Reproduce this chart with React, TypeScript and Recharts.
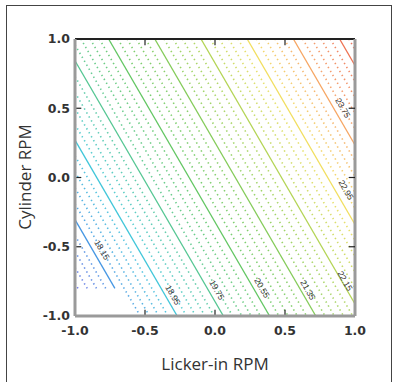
import React from 'react';
import { ComposedChart, Line, XAxis, YAxis, ReferenceLine, Scatter } from 'recharts';

const xTicks = [-1, -0.5, 0, 0.5, 1];
const yTicks = [-1, -0.5, 0, 0.5, 1];

const majorLevels = [18.15, 18.95, 19.75, 20.55, 21.35, 22.15, 22.95, 23.75, 24.55];

const contourLevels = [
  17.51, 17.67, 17.83, 17.99, 18.15, 18.31, 18.47, 18.63, 18.79, 18.95,
  19.11, 19.27, 19.43, 19.59, 19.75, 19.91, 20.07, 20.23, 20.39, 20.55,
  20.71, 20.87, 21.03, 21.19, 21.35, 21.51, 21.67, 21.83, 21.99, 22.15,
  22.31, 22.47, 22.63, 22.79, 22.95, 23.11, 23.27, 23.43, 23.59, 23.75,
  23.91, 24.07, 24.23, 24.39, 24.55, 24.71,
];

// upper-left end of each contour line
const contourStart: [number, number][] = [
  [-1, -0.763], [-1, -0.649], [-1, -0.534], [-1, -0.419], [-1, -0.304],
  [-1, -0.19], [-1, -0.075], [-1, 0.04], [-1, 0.155], [-1, 0.27],
  [-1, 0.384], [-1, 0.499], [-1, 0.614], [-1, 0.729], [-1, 0.843],
  [-1, 0.958], [-0.958, 1], [-0.892, 1], [-0.826, 1], [-0.76, 1],
  [-0.694, 1], [-0.628, 1], [-0.562, 1], [-0.496, 1], [-0.43, 1],
  [-0.364, 1], [-0.298, 1], [-0.232, 1], [-0.166, 1], [-0.1, 1],
  [-0.034, 1], [0.032, 1], [0.098, 1], [0.164, 1], [0.23, 1],
  [0.296, 1], [0.362, 1], [0.428, 1], [0.494, 1], [0.56, 1],
  [0.626, 1], [0.692, 1], [0.758, 1], [0.824, 1], [0.89, 1],
  [0.956, 1],
];

// lower-right end of each contour line
const contourEnd: [number, number][] = [
  [-0.979, -0.8], [-0.913, -0.8], [-0.847, -0.8], [-0.781, -0.8], [-0.715, -0.8],
  [-0.534, -1], [-0.468, -1], [-0.402, -1], [-0.336, -1], [-0.27, -1],
  [-0.204, -1], [-0.138, -1], [-0.072, -1], [-0.006, -1], [0.06, -1],
  [0.126, -1], [0.192, -1], [0.258, -1], [0.324, -1], [0.39, -1],
  [0.456, -1], [0.522, -1], [0.588, -1], [0.654, -1], [0.72, -1],
  [0.786, -1], [0.852, -1], [0.918, -1], [0.984, -1], [1, -0.913],
  [1, -0.798], [1, -0.683], [1, -0.569], [1, -0.454], [1, -0.339],
  [1, -0.224], [1, -0.11], [1, 0.005], [1, 0.12], [1, 0.235],
  [1, 0.35], [1, 0.464], [1, 0.579], [1, 0.694], [1, 0.809],
  [1, 0.923],
];

const labelText = ['18.15', '18.95', '19.75', '20.55', '21.35', '22.15', '22.95', '23.75'];
const labelX = [-0.807, -0.3, 0.014, 0.336, 0.664, 0.929, 0.936, 0.914];
const labelY = [-0.523, -0.848, -0.812, -0.798, -0.812, -0.747, -0.09, 0.502];

const colorStops: [number, number[]][] = [
  [17.5, [90, 100, 225]],
  [18.15, [60, 145, 225]],
  [18.95, [55, 195, 215]],
  [19.75, [75, 195, 140]],
  [20.55, [90, 195, 90]],
  [21.35, [125, 200, 80]],
  [22.15, [175, 210, 75]],
  [22.95, [240, 220, 85]],
  [23.75, [245, 160, 90]],
  [24.71, [235, 95, 70]],
];

function colorFor(level: number): string {
  for (let i = 0; i < colorStops.length - 1; i++) {
    const [a, ca] = colorStops[i];
    const [b, cb] = colorStops[i + 1];
    if (level <= b || i === colorStops.length - 2) {
      const t = Math.max(0, Math.min(1, (level - a) / (b - a)));
      const c = ca.map((v, k) => Math.round(v + (cb[k] - v) * t));
      return `rgb(${c[0]},${c[1]},${c[2]})`;
    }
  }
  return '#888';
}

const isMajor = (l: number) => majorLevels.some((m) => Math.abs(m - l) < 0.001);

const labelData = labelText.map((t, i) => ({ x: labelX[i], y: labelY[i], text: t }));

const LabelShape = (props: any) => {
  const { cx, cy, payload } = props;
  return (
    <text
      x={cx}
      y={cy}
      transform={`rotate(60 ${cx} ${cy})`}
      textAnchor="middle"
      dominantBaseline="central"
      fontSize={8.5}
      fontFamily="'Liberation Sans', Arial, sans-serif"
      fill="#333"
    >
      {payload.text}
    </text>
  );
};

const tickSegs = [-0.5, 0, 0.5];
const tickFont = { fill: '#333', fontSize: 12.5, fontWeight: 700, fontFamily: "'DejaVu Sans', sans-serif" };

export default function App() {
  return (
    <div style={{ position: 'relative', width: 397, height: 382, background: '#fff', overflow: 'hidden' }}>
      <style>{`body{margin:0;}`}</style>
      <div
        style={{
          position: 'absolute',
          left: 6,
          top: 5,
          width: 386,
          height: 390,
          border: '1px solid #444',
          boxSizing: 'border-box',
        }}
      />
      <div style={{ position: 'absolute', left: 0, top: 0 }}>
        <ComposedChart
          width={397}
          height={382}
          margin={{ top: 39, right: 42, bottom: 46, left: 35 }}
        >
          <XAxis
            type="number"
            dataKey="x"
            domain={[-1, 1]}
            ticks={xTicks}
            allowDataOverflow
            tickFormatter={(v: number) => v.toFixed(1)}
            tickLine={false}
            axisLine={{ stroke: '#9a9a9a', strokeWidth: 3 }}
            tick={tickFont}
            tickSize={4}
            tickMargin={6}
            height={20}
          />
          <YAxis
            type="number"
            dataKey="y"
            domain={[-1, 1]}
            ticks={yTicks}
            allowDataOverflow
            tickFormatter={(v: number) => v.toFixed(1)}
            tickLine={false}
            axisLine={{ stroke: '#9a9a9a', strokeWidth: 3 }}
            tick={tickFont}
            tickSize={3}
            tickMargin={2}
            width={40}
          />
          {contourLevels.map((lvl, i) => {
            const major = isMajor(lvl);
            const data = [
              { x: contourStart[i][0], y: contourStart[i][1] },
              { x: contourEnd[i][0], y: contourEnd[i][1] },
            ];
            return (
              <Line
                key={`c${i}`}
                data={data}
                dataKey="y"
                type="linear"
                stroke={colorFor(lvl)}
                strokeWidth={major ? 1.3 : 1.6}
                strokeDasharray={major ? undefined : '1.4 3.2'}
                strokeOpacity={major ? 0.95 : 0.85}
                dot={false}
                activeDot={false}
                isAnimationActive={false}
              />
            );
          })}
          <ReferenceLine y={1} stroke="#222" strokeWidth={2} />
          <ReferenceLine x={1} stroke="#9a9a9a" strokeWidth={3} />
          {tickSegs.map((v) => (
            <ReferenceLine
              key={`bt${v}`}
              segment={[{ x: v, y: -1 }, { x: v, y: -0.955 }]}
              stroke="#222"
              strokeWidth={1.2}
            />
          ))}
          {tickSegs.map((v) => (
            <ReferenceLine
              key={`tt${v}`}
              segment={[{ x: v, y: 1 }, { x: v, y: 0.955 }]}
              stroke="#222"
              strokeWidth={1.2}
            />
          ))}
          {tickSegs.map((v) => (
            <ReferenceLine
              key={`lt${v}`}
              segment={[{ x: -1, y: v }, { x: -0.955, y: v }]}
              stroke="#222"
              strokeWidth={1.2}
            />
          ))}
          {tickSegs.map((v) => (
            <ReferenceLine
              key={`rt${v}`}
              segment={[{ x: 1, y: v }, { x: 0.955, y: v }]}
              stroke="#222"
              strokeWidth={1.2}
            />
          ))}
          <Scatter data={labelData} dataKey="y" shape={LabelShape} isAnimationActive={false} />
        </ComposedChart>
      </div>
      <div
        style={{
          position: 'absolute',
          left: 215,
          top: 364,
          transform: 'translate(-50%, -50%)',
          fontFamily: "'Open Sans', sans-serif",
          fontSize: 17,
          color: '#333',
          whiteSpace: 'nowrap',
          lineHeight: '20px',
        }}
      >
        Licker-in RPM
      </div>
      <div
        style={{
          position: 'absolute',
          left: 25,
          top: 177,
          transform: 'translate(-50%, -50%) rotate(-90deg)',
          fontFamily: "'Open Sans', sans-serif",
          fontSize: 17,
          color: '#333',
          whiteSpace: 'nowrap',
          lineHeight: '20px',
        }}
      >
        Cylinder RPM
      </div>
    </div>
  );
}
